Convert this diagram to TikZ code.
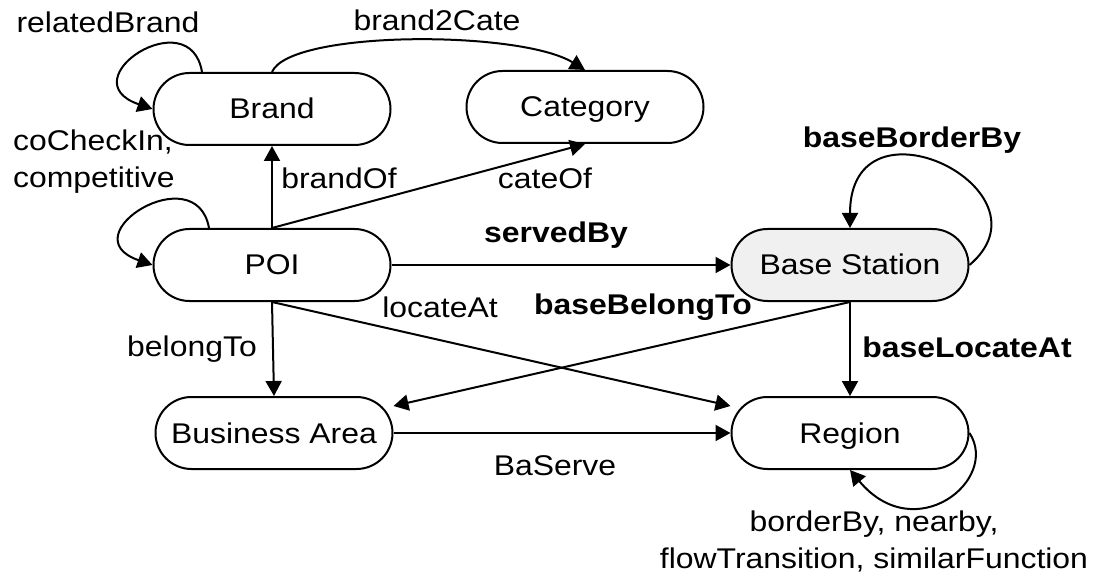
\documentclass[tikz,border=0pt]{standalone}
\usepackage{fontspec}
\setmainfont{Liberation Sans}[FakeStretch=1.12]
\usetikzlibrary{arrows.meta}
\begin{document}
\begin{tikzpicture}[x=1pt,y=-1pt,
  ent/.style={draw, line width=2pt, rectangle, rounded corners=36pt, minimum width=237pt, minimum height=72pt, inner sep=0pt, text height=20pt, text depth=0pt, font=\fontsize{28.5}{37}\selectfont},
  lbl/.style={inner sep=0pt, font=\fontsize{28.5}{37}\selectfont},
  blbl/.style={lbl, font=\fontsize{28.5}{37}\selectfont\bfseries},
  edge/.style={line width=2pt, -{Triangle[length=15pt,width=16pt]}}]
\path[use as bounding box] (0,0) rectangle (1097,577);
\node[ent] (Brand) at (272,109) {Brand};
\node[ent] (Cat) at (585,107) {Category};
\node[ent] (POI) at (272,265) {POI};
\node[ent, fill=black!6] (BS) at (850,265) {Base Station};
\node[ent] (BA) at (274,433) {Business Area};
\node[ent] (Reg) at (850,433) {Region};
% straight edges
\draw[edge] (POI.north) -- (Brand.south);
\draw[edge] (POI.north) -- (Cat.south);
\draw[edge] (POI.east) -- (BS.west);
\draw[edge] (POI.south) -- (Reg);
\draw[edge] (POI.south) -- (BA.north);
\draw[edge] (BS.south) -- (BA);
\draw[edge] (BS.south) -- (Reg.north);
\draw[edge] (BA.east) -- (Reg.west);
% curved edges
\coordinate (rbS) at (202,72);
\draw[edge] (rbS) .. controls (190,0) and (68,80) .. (Brand.west);
\coordinate (pS) at (209,228);
\draw[edge] (pS) .. controls (196,156) and (68,236) .. (POI.west);
\draw[edge] (Brand.north) .. controls (290,30) and (520,30) .. (Cat.north);
\draw[edge] (BS.east) .. controls (1058,190) and (850,88) .. (BS.north);
\draw[edge] (Reg.east) .. controls (1000,480) and (915,548) .. (Reg.south);
% labels
\node[lbl] (l1) at (108,22) {relatedBrand};
\node[lbl] (l2) at (437,20) {brand2Cate};
\node[lbl, align=left, anchor=west] (l3) at (13,162) {coCheckIn,\\competitive};
\node[lbl] (l4) at (339,178) {brandOf};
\node[lbl] (l5) at (545,178) {cateOf};
\node[blbl] (l6) at (556,235) {servedBy};
\node[blbl] (l7) at (912,140) {baseBorderBy};
\node[lbl] (l8) at (440,307) {locateAt};
\node[blbl] (l9) at (643,307) {baseBelongTo};
\node[lbl] (l10) at (192,349) {belongTo};
\node[blbl] (l11) at (967,347) {baseLocateAt};
\node[lbl] (l12) at (555,466) {BaServe};
\node[lbl, align=center] (l13) at (874,541) {borderBy, nearby,\\flowTransition, similarFunction};
\end{tikzpicture}
\end{document}
